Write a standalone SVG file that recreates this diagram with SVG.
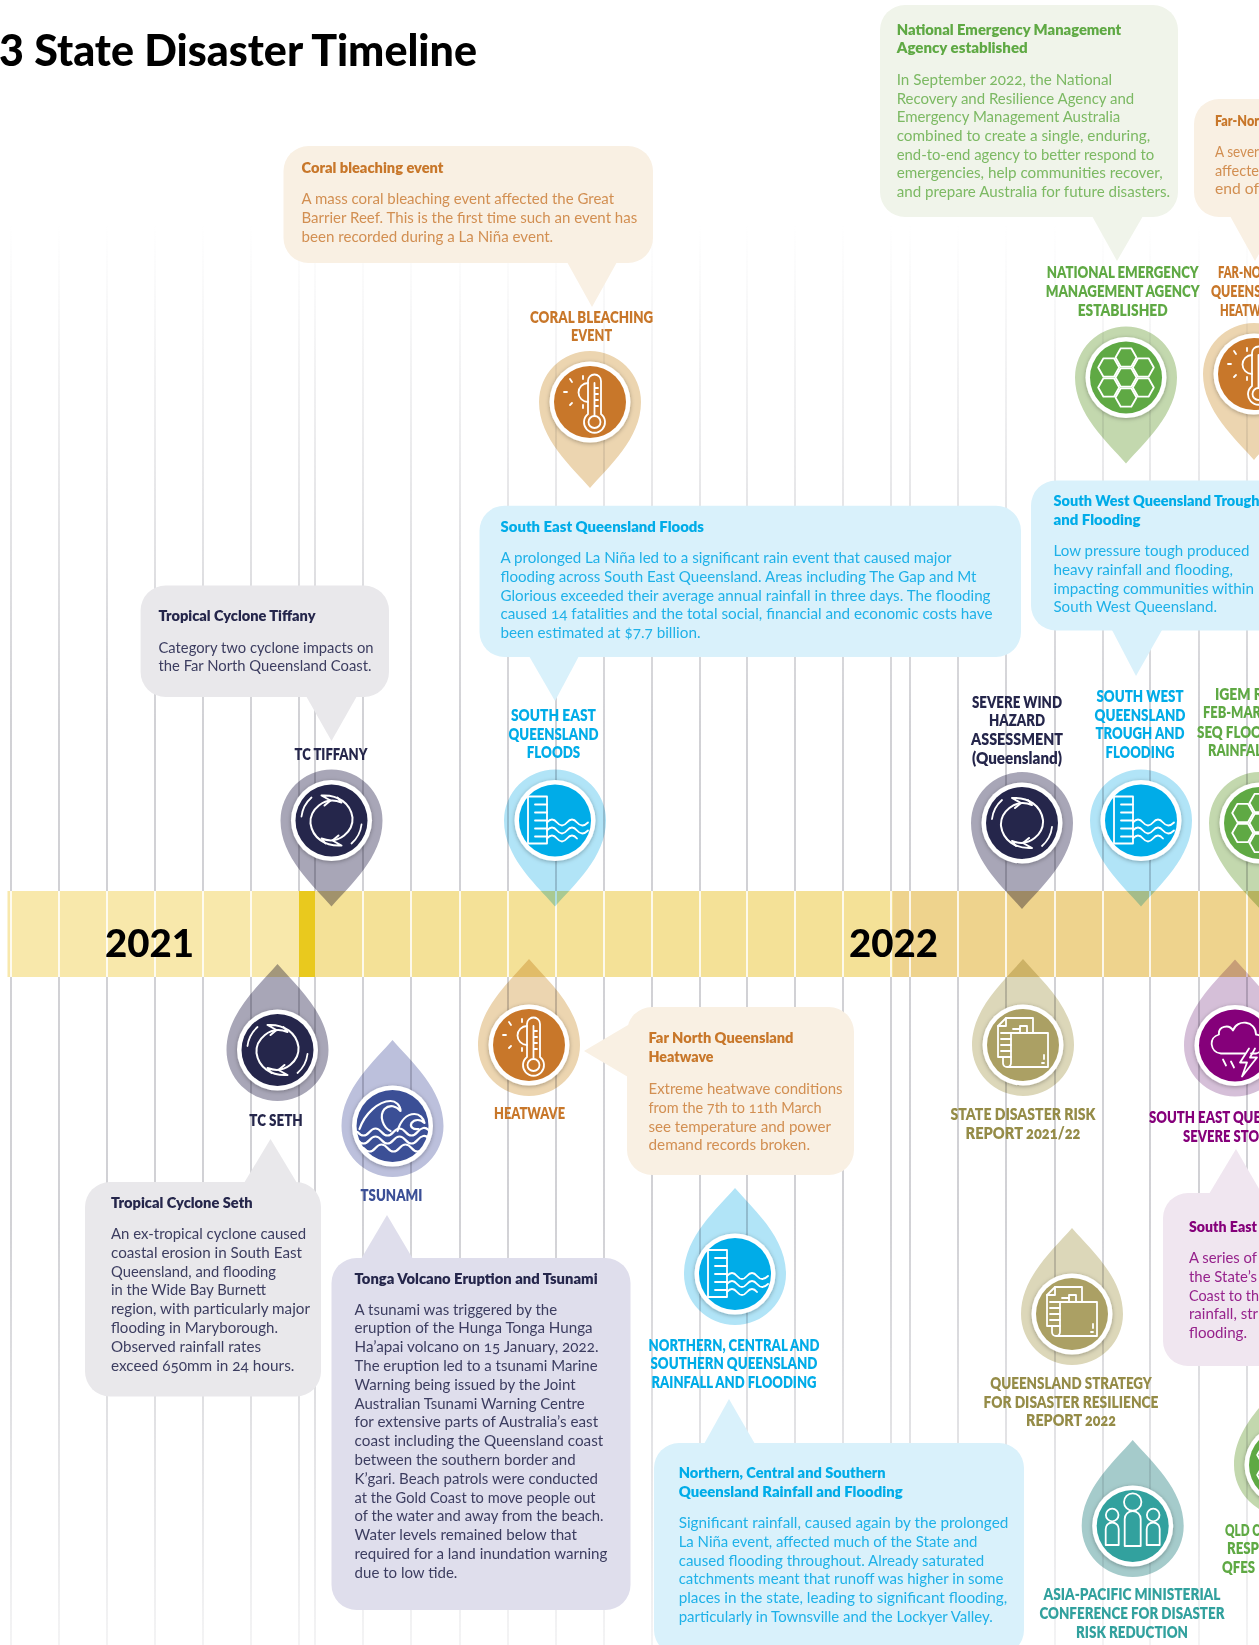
<svg xmlns="http://www.w3.org/2000/svg" xmlns:xlink="http://www.w3.org/1999/xlink" width="1259" height="1645" viewBox="0 0 1259 1645">
<style>
text{font-family:"Lato","Noto Sans",sans-serif;font-variant-numeric:oldstyle-nums}
.t{font-size:15.8px;font-weight:800}
.b{font-size:15.2px;font-weight:400}
.l{font-size:16px;font-weight:800;text-anchor:middle}
.ls{font-size:16px;font-weight:800}
.h{mix-blend-mode:multiply}
.navy{fill:#25264b}.navyb{fill:#3c3d60}.hnavy{fill:#a8a6b7}
.blue{fill:#00ace8}.blueb{fill:#1eb1e8}.hblue{fill:#b1e4f7}
.oran{fill:#c8772a}.oranb{fill:#d28f52}.horan{fill:#ecd5b0}
.green{fill:#5fa944}.greenb{fill:#7cb963}.hgreen{fill:#c3d8ae}
.olive{fill:#958c48}.holive{fill:#dcd7b9}.iolive{fill:#aba064}
.purp{fill:#85007a}.purpb{fill:#96228c}.hpurp{fill:#d5bfd8}
.teal{fill:#32a19e}.hteal{fill:#a5cbcb}
.tsu{fill:#3b4f96}.htsu{fill:#bcc0dc}
.cgrey{fill:#e9e8eb}.cblue{fill:#d9f1fb}.coran{fill:#f9f0e3}.cgreen{fill:#f0f4ea}.clil{fill:#dfdeec}.cpurp{fill:#f0e6f0}
.ic{fill:none;stroke:#fff;stroke-width:1.8;stroke-linejoin:round;stroke-linecap:round}
.grid{stroke:url(#gridfade);stroke-width:1.6}
.gw{stroke:#fff;stroke-width:1.6}
</style>
<defs>
<linearGradient id="gridfade" gradientUnits="userSpaceOnUse" x1="0" y1="225" x2="0" y2="1645">
<stop offset="0" stop-color="#c6c6cb" stop-opacity="0"/>
<stop offset="0.09" stop-color="#c6c6cb" stop-opacity="0.25"/>
<stop offset="0.35" stop-color="#c6c6cb" stop-opacity="1"/>
<stop offset="0.7" stop-color="#c6c6cb" stop-opacity="1"/>
<stop offset="1" stop-color="#c6c6cb" stop-opacity="0.25"/>
</linearGradient>
<filter id="sh" x="-30%" y="-30%" width="160%" height="160%"><feDropShadow dx="0" dy="1" stdDeviation="2" flood-color="#000" flood-opacity="0.3"/></filter>
<path id="drop" d="M0,-86 C18,-65 51,-37 51,0 A51,51 0 0 1 -51,0 C-51,-37 -18,-65 0,-86Z"/>
<circle id="disc" r="40.5" fill="#fff" filter="url(#sh)"/>
<circle id="in" r="36"/>
<g id="i-cyc" class="ic">
<path stroke-width="2" d="M6,-23 L10,-18 C-8,-25 -22,-10 -21,3 C-19,17 -7,26 10,25 L1,20 L7,15"/><path d="M-30,-4 A30 30 0 0 1 -20,-23"/>
<path stroke-width="2" transform="rotate(180)" d="M6,-23 L10,-18 C-8,-25 -22,-10 -21,3 C-19,17 -7,26 10,25 L1,20 L7,15"/><path transform="rotate(180)" d="M-30,-4 A30 30 0 0 1 -20,-23"/>
</g>
<g id="i-fl" class="ic">
<path d="M-27,-24 H-8 V23 H-27Z"/><path d="M-8,-16 H-20 M-8,-8 H-20 M-8,0 H-20 M-8,8 H-20 M-8,16 H-20"/>
<path d="M-8,2 q5,-6 10,0 t10,0 t10,0 t11,0 M-8,10 q5,-6 10,0 t10,0 t10,0 t11,0 M-8,18 q5,-6 10,0 t10,0 t10,0"/>
</g>
<g id="i-th" class="ic">
<path d="M-2,12 V-21 a6.5,6.5 0 0 1 13,0 V12 a10.5,10.5 0 1 1 -13,0Z"/><circle cx="4.5" cy="20" r="6"/>
<path d="M4.5,-19 V14 M4.5,-14 H8 M4.5,-8 H8 M4.5,-2 H8 M4.5,4 H8"/>
<path d="M-2,-19 A9.5,9.5 0 1 0 -2,0"/><path d="M-7,-26 V-23 M-7,3 V6 M-26,-10 H-23 M-20,-23 L-18,-20 M-20,3 L-18,1"/>
</g>
<polygon id="hx" points="-10.5,0 -5.25,-9.2 5.25,-9.2 10.5,0 5.25,9.2 -5.25,9.2"/>
<g id="i-hex" class="ic">
<use href="#hx"/><use href="#hx" x="0" y="-20"/><use href="#hx" x="0" y="20"/><use href="#hx" x="-17.3" y="-10"/><use href="#hx" x="17.3" y="-10"/><use href="#hx" x="-17.3" y="10"/><use href="#hx" x="17.3" y="10"/>
</g>
<g id="i-rep" class="ic">
<path d="M-12,12 H-25 V-19 L-17,-27 H10 V-12"/><path d="M-25,-19 H-17 V-27"/><path d="M-3,-19 H4 V-12 H-3Z"/>
<path d="M-12,-12 H25 V22 H-16 a4,4 0 0 1 -4,-4 V12 M-12,-12 V18 a4,4 0 0 1 -8,0"/>
<path d="M-22,-12 H-12 M-22,-6 H-12 M-22,0 H-12 M-22,6 H-12 M-10,-16 H-3 M21,10 V14 M19,18 H21"/>
</g>
<g id="i-st" class="ic">
<path d="M10,8 H-14 C-25,7 -27,-8 -16,-11 C-17,-19 -6,-22 -2,-15 C2,-27 21,-25 21,-11 C30,-11 31,6 21,8 H16"/>
<path d="M14,3 L5,17 L12,17 L7,31 L22,12 L15,12 L20,3"/><path d="M-12,14 L-9,20 M-4,16 L-1,22"/>
</g>
<g id="i-ts" class="ic">
<g stroke-width="2.2">
<path d="M-33,3 C-28,-12 -14,-25 -2,-25 C3,-25 8,-21 8,-15 C4,-20 -3,-22 -8,-17 C-14,-10 -9,2 -2,5"/>
<path d="M5,5 C8,-5 14,-12 22,-12 C27,-12 31,-8 32,-3 C28,-7 22,-7 19,-3 C17,1 21,4 26,3"/>
<path d="M-35,6 q6,7 12,0 t12,0 t12,0 t12,0 t12,0 t11,-2 M-35,14 q6,7 12,0 t12,0 t12,0 t12,0 t12,0 t11,-2 M-29,22 q6,7 12,0 t12,0 t12,0 t12,0 t12,0"/>
</g>
</g>
<g id="i-pp" class="ic">
<circle cx="0" cy="-24" r="8.7"/><path d="M-8,20 V-7 a8,8 0 0 1 16,0 V20Z"/>
<circle cx="-20.5" cy="-11" r="6.3"/><path d="M-27,19 V3 a6.5,6.5 0 0 1 13,0 V19Z"/>
<circle cx="20.5" cy="-11" r="6.3"/><path d="M14,19 V3 a6.5,6.5 0 0 1 13,0 V19Z"/>
</g>
</defs>

<g id="gridlines" class="grid">
<path d="M11,225V1645M59,225V1645M107,225V1645M155,225V1645M203,225V1645M251,225V1645M299,225V1645M315,225V1645M363,225V1645M411,225V1645M460,225V1645M508,225V1645M556,225V1645M604,225V1645M652,225V1645M700,225V1645M747,225V1645M795,225V1645M843,225V1645M891,225V1645M910,225V1645M958,225V1645M1006,225V1645M1055,225V1645M1103,225V1645M1150,225V1645M1199,225V1645M1247,225V1645"/>
</g>
<g id="band">
<rect x="7.5" y="891" width="291.5" height="86" fill="#f8e8ab"/>
<rect x="299" y="891" width="16" height="86" fill="#e9c91e"/>
<rect x="315" y="891" width="578" height="86" fill="#f4e197"/>
<rect x="893" y="891" width="366" height="86" fill="#eed38d"/>
<path class="gw" d="M11,891V977M59,891V977M107,891V977M155,891V977M203,891V977M251,891V977M363,891V977M411,891V977M460,891V977M508,891V977M556,891V977M604,891V977M652,891V977M700,891V977M747,891V977M795,891V977M843,891V977M891,891V977M910,891V977M958,891V977M1006,891V977M1055,891V977M1103,891V977M1150,891V977M1199,891V977M1247,891V977"/>
<text x="105" y="957" font-size="37" font-weight="900" fill="#000" style="font-variant-numeric:lining-nums" textLength="89" lengthAdjust="spacingAndGlyphs">2021</text>
<text x="849" y="957" font-size="37" font-weight="900" fill="#000" style="font-variant-numeric:lining-nums" textLength="89" lengthAdjust="spacingAndGlyphs">2022</text>
</g>
<text id="title" x="-1" y="66" font-size="44" font-weight="900" fill="#000" style="font-variant-numeric:lining-nums" textLength="478" lengthAdjust="spacingAndGlyphs">3 State Disaster Timeline</text>

<g id="connectors">
<polygon class="coran" points="567,262 617,262 592,307"/>
<polygon class="cgrey" points="306,696 357,696 331.5,741"/>
<polygon class="cblue" points="529,656 579,656 555,701"/>
<polygon class="cgreen" points="1092,216 1143,216 1117,261"/>
<polygon class="coran" points="1230,216 1281,216 1255,261"/>
<polygon class="cblue" points="1112,630 1162,630 1136,676"/>
<polygon class="cgrey" points="244,1183 297,1183 270.5,1139"/>
<polygon class="clil" points="361,1259 413,1259 387,1215"/>
<polygon class="coran" points="628,1025 628,1077 584,1051"/>
<polygon class="cblue" points="704,1444 755,1444 729,1399"/>
<polygon class="cpurp" points="1209,1194 1262,1194 1236,1149"/>
</g>

<g id="node-tc-tiffany" transform="translate(331.5,820.5)"><use href="#drop" class="h hnavy" transform="scale(1,-1)"/><use href="#disc"/><use href="#in" class="navy"/><use href="#i-cyc"/></g>
<g id="node-coral" transform="translate(590,402)"><use href="#drop" class="h horan" transform="scale(1,-1)"/><use href="#disc"/><use href="#in" class="oran"/><use href="#i-th"/></g>
<g id="node-seq-floods" transform="translate(555,820.5)"><use href="#drop" class="h hblue" transform="scale(1,-1)"/><use href="#disc"/><use href="#in" class="blue"/><use href="#i-fl"/></g>
<g id="node-severe-wind" transform="translate(1022,823)"><use href="#drop" class="h hnavy" transform="scale(1,-1)"/><use href="#disc"/><use href="#in" class="navy"/><use href="#i-cyc"/></g>
<g id="node-sw-qld" transform="translate(1141,820.5)"><use href="#drop" class="h hblue" transform="scale(1,-1)"/><use href="#disc"/><use href="#in" class="blue"/><use href="#i-fl"/></g>
<g id="node-igem" transform="translate(1260,823)"><use href="#drop" class="h hgreen" transform="scale(1,-1)"/><use href="#disc"/><use href="#in" class="green"/><use href="#i-hex"/></g>
<g id="node-nema" transform="translate(1126,377.5)"><use href="#drop" class="h hgreen" transform="scale(1,-1)"/><use href="#disc"/><use href="#in" class="green"/><use href="#i-hex"/></g>
<g id="node-fnq-heatwave-2" transform="translate(1254,374)"><use href="#drop" class="h horan" transform="scale(1,-1)"/><use href="#disc"/><use href="#in" class="oran"/><use href="#i-th"/></g>

<g id="node-tc-seth" transform="translate(277.5,1050)"><use href="#drop" class="h hnavy"/><use href="#disc"/><use href="#in" class="navy"/><use href="#i-cyc"/></g>
<g id="node-tsunami" transform="translate(392.5,1126)"><use href="#drop" class="h htsu"/><use href="#disc"/><use href="#in" class="tsu"/><use href="#i-ts"/></g>
<g id="node-heatwave" transform="translate(529,1045)"><use href="#drop" class="h horan"/><use href="#disc"/><use href="#in" class="oran"/><use href="#i-th"/></g>
<g id="node-state-risk" transform="translate(1023,1045)"><use href="#drop" class="h holive"/><use href="#disc"/><use href="#in" class="iolive"/><use href="#i-rep"/></g>
<g id="node-seq-storms" transform="translate(1235,1045.5)"><use href="#drop" class="h hpurp"/><use href="#disc"/><use href="#in" class="purp"/><use href="#i-st"/></g>
<g id="node-northern" transform="translate(735,1274)"><use href="#drop" class="h hblue"/><use href="#disc"/><use href="#in" class="blue"/><use href="#i-fl"/></g>
<g id="node-qsdr" transform="translate(1072,1314)"><use href="#drop" class="h holive"/><use href="#disc"/><use href="#in" class="iolive"/><use href="#i-rep"/></g>
<g id="node-apmcdrr" transform="translate(1132.7,1526)"><use href="#drop" class="h hteal"/><use href="#disc"/><use href="#in" class="teal"/><use href="#i-pp"/></g>
<g id="node-qld-one" transform="translate(1285,1465)"><use href="#drop" class="h hgreen"/><use href="#disc"/><use href="#in" class="green"/><use href="#i-hex"/></g>

<g id="labels">
<text class="l navy" x="331" y="760" textLength="73" lengthAdjust="spacingAndGlyphs">TC TIFFANY</text>
<text class="l oran" x="591.6" y="323" textLength="123" lengthAdjust="spacingAndGlyphs">CORAL BLEACHING</text>
<text class="l oran" x="591.6" y="341" textLength="41" lengthAdjust="spacingAndGlyphs">EVENT</text>
<text class="l blue" x="553.5" y="721" textLength="85" lengthAdjust="spacingAndGlyphs">SOUTH EAST</text>
<text class="l blue" x="553.5" y="740" textLength="90" lengthAdjust="spacingAndGlyphs">QUEENSLAND</text>
<text class="l blue" x="553.5" y="757.5" textLength="53.5" lengthAdjust="spacingAndGlyphs">FLOODS</text>
<text class="l navy" x="1017" y="708" textLength="90" lengthAdjust="spacingAndGlyphs">SEVERE WIND</text>
<text class="l navy" x="1017" y="726" textLength="56" lengthAdjust="spacingAndGlyphs">HAZARD</text>
<text class="l navy" x="1017" y="745" textLength="92" lengthAdjust="spacingAndGlyphs">ASSESSMENT</text>
<text class="l navy" x="1017" y="764" textLength="90" lengthAdjust="spacingAndGlyphs">(Queensland)</text>
<text class="l blue" x="1140" y="702" textLength="87" lengthAdjust="spacingAndGlyphs">SOUTH WEST</text>
<text class="l blue" x="1140" y="721" textLength="91" lengthAdjust="spacingAndGlyphs">QUEENSLAND</text>
<text class="l blue" x="1140" y="739" textLength="89" lengthAdjust="spacingAndGlyphs">TROUGH AND</text>
<text class="l blue" x="1140" y="757.5" textLength="69" lengthAdjust="spacingAndGlyphs">FLOODING</text>
<text class="ls green" x="1215" y="700" textLength="48" lengthAdjust="spacingAndGlyphs">IGEM R</text>
<text class="ls green" x="1203" y="718" textLength="58" lengthAdjust="spacingAndGlyphs">FEB-MAR</text>
<text class="ls green" x="1197" y="738" textLength="65" lengthAdjust="spacingAndGlyphs">SEQ FLOO</text>
<text class="ls green" x="1208" y="756" textLength="54" lengthAdjust="spacingAndGlyphs">RAINFAL</text>
<text class="l green" x="1122.7" y="278" textLength="152" lengthAdjust="spacingAndGlyphs">NATIONAL EMERGENCY</text>
<text class="l green" x="1122.7" y="297" textLength="154" lengthAdjust="spacingAndGlyphs">MANAGEMENT AGENCY</text>
<text class="l green" x="1122.7" y="316" textLength="90" lengthAdjust="spacingAndGlyphs">ESTABLISHED</text>
<text class="ls oran" x="1218" y="278" textLength="43" lengthAdjust="spacingAndGlyphs">FAR-NO</text>
<text class="ls oran" x="1211" y="297" textLength="50" lengthAdjust="spacingAndGlyphs">QUEENS</text>
<text class="ls oran" x="1220" y="316" textLength="41" lengthAdjust="spacingAndGlyphs">HEATW</text>
<text class="l navy" x="276" y="1126" textLength="53.5" lengthAdjust="spacingAndGlyphs">TC SETH</text>
<text class="l tsu" x="391.5" y="1200.5" textLength="62" lengthAdjust="spacingAndGlyphs">TSUNAMI</text>
<text class="l oran" x="529.5" y="1118.5" textLength="71" lengthAdjust="spacingAndGlyphs">HEATWAVE</text>
<text class="l olive" x="1023" y="1120" textLength="145" lengthAdjust="spacingAndGlyphs">STATE DISASTER RISK</text>
<text class="l olive" x="1023" y="1139" textLength="115" lengthAdjust="spacingAndGlyphs">REPORT 2021/22</text>
<text class="ls purp" x="1149" y="1122.7" textLength="112" lengthAdjust="spacingAndGlyphs">SOUTH EAST QUE</text>
<text class="ls purp" x="1183" y="1141.7" textLength="76" lengthAdjust="spacingAndGlyphs">SEVERE STO</text>
<text class="l blue" x="734" y="1350.7" textLength="171" lengthAdjust="spacingAndGlyphs">NORTHERN, CENTRAL AND</text>
<text class="l blue" x="734" y="1369" textLength="167" lengthAdjust="spacingAndGlyphs">SOUTHERN QUEENSLAND</text>
<text class="l blue" x="734" y="1387.7" textLength="165" lengthAdjust="spacingAndGlyphs">RAINFALL AND FLOODING</text>
<text class="l olive" x="1071" y="1389" textLength="161.5" lengthAdjust="spacingAndGlyphs">QUEENSLAND STRATEGY</text>
<text class="l olive" x="1071" y="1407.7" textLength="175" lengthAdjust="spacingAndGlyphs">FOR DISASTER RESILIENCE</text>
<text class="l olive" x="1071" y="1426" textLength="90" lengthAdjust="spacingAndGlyphs">REPORT 2022</text>
<text class="l teal" x="1132" y="1600" textLength="177" lengthAdjust="spacingAndGlyphs">ASIA-PACIFIC MINISTERIAL</text>
<text class="l teal" x="1132" y="1619" textLength="185" lengthAdjust="spacingAndGlyphs">CONFERENCE FOR DISASTER</text>
<text class="l teal" x="1132" y="1637.7" textLength="112" lengthAdjust="spacingAndGlyphs">RISK REDUCTION</text>
<text class="ls green" x="1225" y="1536" textLength="35" lengthAdjust="spacingAndGlyphs">QLD C</text>
<text class="ls green" x="1227" y="1554" textLength="32" lengthAdjust="spacingAndGlyphs">RESP</text>
<text class="ls green" x="1222" y="1572.7" textLength="33" lengthAdjust="spacingAndGlyphs">QFES</text>
</g>

<g id="callout-coral">
<rect class="coran" x="283.5" y="146" width="369.5" height="117" rx="25"/>
<text class="t oran" x="301.5" y="172.7" textLength="142" lengthAdjust="spacingAndGlyphs">Coral bleaching event</text>
<g class="b oranb"><text x="301.5" y="204" textLength="312.6" lengthAdjust="spacingAndGlyphs">A mass coral bleaching event affected the Great</text><text x="301.5" y="223" textLength="335.7" lengthAdjust="spacingAndGlyphs">Barrier Reef. This is the first time such an event has</text><text x="301.5" y="242" textLength="251.7" lengthAdjust="spacingAndGlyphs">been recorded during a La Niña event.</text></g>
</g>
<g id="callout-tiffany">
<rect class="cgrey" x="140.6" y="585.5" width="248.4" height="111.5" rx="25"/>
<text class="t navy" x="158.5" y="621" textLength="157" lengthAdjust="spacingAndGlyphs">Tropical Cyclone Tiffany</text>
<g class="b navyb"><text x="158.5" y="652.6" textLength="215" lengthAdjust="spacingAndGlyphs">Category two cyclone impacts on</text><text x="158.5" y="671.4" textLength="213" lengthAdjust="spacingAndGlyphs">the Far North Queensland Coast.</text></g>
</g>
<g id="callout-seq-floods">
<rect class="cblue" x="479.5" y="505.7" width="541.5" height="151.3" rx="25"/>
<text class="t blue" x="500.5" y="532" textLength="203.5" lengthAdjust="spacingAndGlyphs">South East Queensland Floods</text>
<g class="b blueb"><text x="500.5" y="563" textLength="451" lengthAdjust="spacingAndGlyphs">A prolonged La Niña led to a significant rain event that caused major</text><text x="500.5" y="582" textLength="476" lengthAdjust="spacingAndGlyphs">flooding across South East Queensland. Areas including The Gap and Mt</text><text x="500.5" y="600.5" textLength="490" lengthAdjust="spacingAndGlyphs">Glorious exceeded their average annual rainfall in three days. The flooding</text><text x="500.5" y="619" textLength="492" lengthAdjust="spacingAndGlyphs">caused 14 fatalities and the total social, financial and economic costs have</text><text x="500.5" y="638" textLength="200" lengthAdjust="spacingAndGlyphs">been estimated at $7.7 billion.</text></g>
</g>
<g id="callout-nema">
<rect class="cgreen" x="880" y="5" width="298" height="212" rx="25"/>
<text class="t green" x="896.7" y="35" textLength="224.5" lengthAdjust="spacingAndGlyphs">National Emergency Management</text>
<text class="t green" x="896.7" y="53" textLength="131" lengthAdjust="spacingAndGlyphs">Agency established</text>
<g class="b greenb"><text x="896.7" y="85" textLength="215.5" lengthAdjust="spacingAndGlyphs">In September 2022, the National</text><text x="896.7" y="103.5" textLength="237.5" lengthAdjust="spacingAndGlyphs">Recovery and Resilience Agency and</text><text x="896.7" y="122" textLength="223.5" lengthAdjust="spacingAndGlyphs">Emergency Management Australia</text><text x="896.7" y="141" textLength="253.5" lengthAdjust="spacingAndGlyphs">combined to create a single, enduring,</text><text x="896.7" y="160" textLength="257.5" lengthAdjust="spacingAndGlyphs">end-to-end agency to better respond to</text><text x="896.7" y="178" textLength="266" lengthAdjust="spacingAndGlyphs">emergencies, help communities recover,</text><text x="896.7" y="197" textLength="273.5" lengthAdjust="spacingAndGlyphs">and prepare Australia for future disasters.</text></g>
</g>
<g id="callout-fnq-2">
<rect class="coran" x="1194" y="99" width="100" height="118" rx="25"/>
<text class="t oran" x="1215" y="126" textLength="44" lengthAdjust="spacingAndGlyphs">Far-Nor</text>
<g class="b oranb"><text x="1215" y="157" textLength="44" lengthAdjust="spacingAndGlyphs">A sever</text><text x="1215" y="176" textLength="44" lengthAdjust="spacingAndGlyphs">affecte</text><text x="1215" y="194" textLength="44" lengthAdjust="spacingAndGlyphs">end of</text></g>
</g>
<g id="callout-sw">
<rect class="cblue" x="1031" y="480.5" width="260" height="150" rx="25"/>
<text class="t blue" x="1053.5" y="505.6" textLength="206" lengthAdjust="spacingAndGlyphs">South West Queensland Trough</text>
<text class="t blue" x="1053.5" y="524.5" textLength="87" lengthAdjust="spacingAndGlyphs">and Flooding</text>
<g class="b blueb"><text x="1053.5" y="556" textLength="196" lengthAdjust="spacingAndGlyphs">Low pressure tough produced</text><text x="1053.5" y="575" textLength="179.5" lengthAdjust="spacingAndGlyphs">heavy rainfall and flooding,</text><text x="1053.5" y="593.7" textLength="200.4" lengthAdjust="spacingAndGlyphs">impacting communities within</text><text x="1053.5" y="612" textLength="163.5" lengthAdjust="spacingAndGlyphs">South West Queensland.</text></g>
</g>
<g id="callout-seth">
<rect class="cgrey" x="85" y="1182" width="236" height="214.5" rx="25"/>
<text class="t navy" x="111" y="1207.5" textLength="141.6" lengthAdjust="spacingAndGlyphs">Tropical Cyclone Seth</text>
<g class="b navyb"><text x="111" y="1239" textLength="195" lengthAdjust="spacingAndGlyphs">An ex-tropical cyclone caused</text><text x="111" y="1258" textLength="191" lengthAdjust="spacingAndGlyphs">coastal erosion in South East</text><text x="111" y="1277" textLength="165" lengthAdjust="spacingAndGlyphs">Queensland, and flooding</text><text x="111" y="1295" textLength="155" lengthAdjust="spacingAndGlyphs">in the Wide Bay Burnett</text><text x="111" y="1314" textLength="199" lengthAdjust="spacingAndGlyphs">region, with particularly major</text><text x="111" y="1333" textLength="167" lengthAdjust="spacingAndGlyphs">flooding in Maryborough.</text><text x="111" y="1352" textLength="150" lengthAdjust="spacingAndGlyphs">Observed rainfall rates</text><text x="111" y="1371" textLength="183.4" lengthAdjust="spacingAndGlyphs">exceed 650mm in 24 hours.</text></g>
</g>
<g id="callout-tonga">
<rect class="clil" x="331.5" y="1258" width="299" height="352" rx="25"/>
<text class="t navy" x="354.6" y="1284" textLength="243" lengthAdjust="spacingAndGlyphs">Tonga Volcano Eruption and Tsunami</text>
<g class="b navyb"><text x="354.6" y="1314.5" textLength="202.5" lengthAdjust="spacingAndGlyphs">A tsunami was triggered by the</text><text x="354.6" y="1333.3" textLength="238" lengthAdjust="spacingAndGlyphs">eruption of the Hunga Tonga Hunga</text><text x="354.6" y="1352.1" textLength="244" lengthAdjust="spacingAndGlyphs">Ha’apai volcano on 15 January, 2022.</text><text x="354.6" y="1370.9" textLength="243" lengthAdjust="spacingAndGlyphs">The eruption led to a tsunami Marine</text><text x="354.6" y="1389.7" textLength="221" lengthAdjust="spacingAndGlyphs">Warning being issued by the Joint</text><text x="354.6" y="1408.5" textLength="230" lengthAdjust="spacingAndGlyphs">Australian Tsunami Warning Centre</text><text x="354.6" y="1427.3" textLength="243.5" lengthAdjust="spacingAndGlyphs">for extensive parts of Australia’s east</text><text x="354.6" y="1446.1" textLength="248.6" lengthAdjust="spacingAndGlyphs">coast including the Queensland coast</text><text x="354.6" y="1464.9" textLength="221" lengthAdjust="spacingAndGlyphs">between the southern border and</text><text x="354.6" y="1483.7" textLength="243.4" lengthAdjust="spacingAndGlyphs">K’gari. Beach patrols were conducted</text><text x="354.6" y="1502.5" textLength="241" lengthAdjust="spacingAndGlyphs">at the Gold Coast to move people out</text><text x="354.6" y="1521.3" textLength="249" lengthAdjust="spacingAndGlyphs">of the water and away from the beach.</text><text x="354.6" y="1540.1" textLength="222.4" lengthAdjust="spacingAndGlyphs">Water levels remained below that</text><text x="354.6" y="1558.9" textLength="252.8" lengthAdjust="spacingAndGlyphs">required for a land inundation warning</text><text x="354.6" y="1577.7" textLength="102.8" lengthAdjust="spacingAndGlyphs">due to low tide.</text></g>
</g>
<g id="callout-heatwave">
<rect class="coran" x="627" y="1007" width="227" height="168" rx="25"/>
<text class="t oran" x="648.5" y="1043" textLength="145" lengthAdjust="spacingAndGlyphs">Far North Queensland</text>
<text class="t oran" x="648.5" y="1062" textLength="65" lengthAdjust="spacingAndGlyphs">Heatwave</text>
<g class="b oranb"><text x="648.5" y="1094" textLength="194" lengthAdjust="spacingAndGlyphs">Extreme heatwave conditions</text><text x="648.5" y="1112.5" textLength="173" lengthAdjust="spacingAndGlyphs">from the 7th to 11th March</text><text x="648.5" y="1131.7" textLength="182.5" lengthAdjust="spacingAndGlyphs">see temperature and power</text><text x="648.5" y="1150" textLength="161.5" lengthAdjust="spacingAndGlyphs">demand records broken.</text></g>
</g>
<g id="callout-northern">
<rect class="cblue" x="654" y="1443" width="370" height="212" rx="25"/>
<text class="t blue" x="678.7" y="1477.7" textLength="207" lengthAdjust="spacingAndGlyphs">Northern, Central and Southern</text>
<text class="t blue" x="678.7" y="1497" textLength="224" lengthAdjust="spacingAndGlyphs">Queensland Rainfall and Flooding</text>
<g class="b blueb"><text x="678.7" y="1527.7" textLength="329.6" lengthAdjust="spacingAndGlyphs">Significant rainfall, caused again by the prolonged</text><text x="678.7" y="1546.7" textLength="298.7" lengthAdjust="spacingAndGlyphs">La Niña event, affected much of the State and</text><text x="678.7" y="1566" textLength="305.6" lengthAdjust="spacingAndGlyphs">caused flooding throughout. Already saturated</text><text x="678.7" y="1584" textLength="324.7" lengthAdjust="spacingAndGlyphs">catchments meant that runoff was higher in some</text><text x="678.7" y="1603" textLength="328.6" lengthAdjust="spacingAndGlyphs">places in the state, leading to significant flooding,</text><text x="678.7" y="1621.7" textLength="314" lengthAdjust="spacingAndGlyphs">particularly in Townsville and the Lockyer Valley.</text></g>
</g>
<g id="callout-seq-storms">
<rect class="cpurp" x="1163" y="1193" width="140" height="173" rx="25"/>
<text class="t purp" x="1189" y="1232" textLength="68" lengthAdjust="spacingAndGlyphs">South East</text>
<g class="b purpb"><text x="1189" y="1263" textLength="68" lengthAdjust="spacingAndGlyphs">A series of</text><text x="1189" y="1282" textLength="68" lengthAdjust="spacingAndGlyphs">the State’s</text><text x="1189" y="1300.6" textLength="70" lengthAdjust="spacingAndGlyphs">Coast to th</text><text x="1189" y="1319" textLength="69" lengthAdjust="spacingAndGlyphs">rainfall, str</text><text x="1189" y="1338" textLength="58" lengthAdjust="spacingAndGlyphs">flooding.</text></g>
</g>
</svg>
